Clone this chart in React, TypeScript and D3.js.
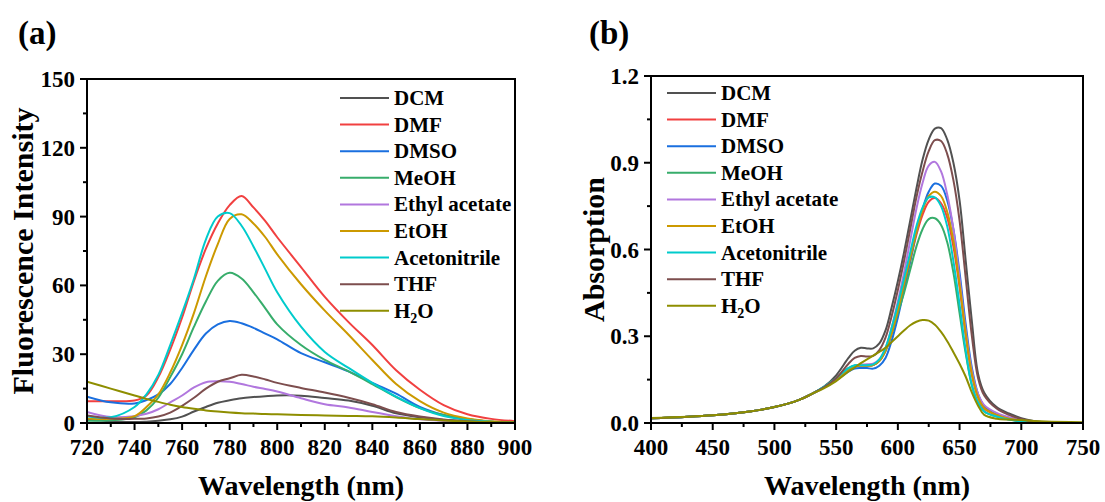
import React from "react";
import * as d3 from "d3";

// ---------- Data ----------
const solvents = ["DCM", "DMF", "DMSO", "MeOH", "Ethyl acetate", "EtOH", "Acetonitrile", "THF", "H2O"];
const colors = ["#515151", "#F14040", "#1A6FDF", "#37AD6B", "#B177DE", "#CC9900", "#00CBCC", "#7D4E4E", "#8E8E00"];

// Panel (a): fluorescence
const flWavelength = [720, 730, 740, 745, 750, 755, 760, 765, 770, 775, 780, 785, 790, 795, 800, 810, 820, 830, 840, 850, 860, 870, 880, 890, 900];
const flDCM = [1.4, 0.8, 0.4, 0.6, 1, 1.6, 2.8, 5, 7, 8.8, 9.9, 10.8, 11.3, 11.7, 12, 11.9, 10.9, 9.8, 7.5, 4.2, 2.5, 1.3, 0.7, 0.3, 0.2];
const flDMF = [9.5, 9.5, 9.8, 12, 20, 32, 46, 62, 76, 87, 95, 99, 94, 88, 81, 68, 55, 44, 34, 23, 14.5, 7.8, 3.8, 1.8, 0.8];
const flDMSO = [11.5, 9, 8.5, 10, 12.5, 17, 24, 32, 39, 43, 44.5, 43.5, 41.5, 39, 36.5, 30.5, 26.5, 22.5, 17.5, 12.8, 7, 3.5, 1.6, 0.6, 0.3];
const flMeOH = [1, 1.2, 2.5, 5.5, 11, 20, 30, 42, 53, 62, 65.5, 63, 57, 50, 43, 34, 27.5, 22.5, 17, 11.3, 6.5, 3.5, 1.6, 0.6, 0.3];
const flEA = [4.8, 2.6, 3, 4, 6, 9, 12, 15.5, 17.8, 18.2, 18, 17, 15.8, 14.8, 13.7, 10.8, 8.2, 6.8, 4.8, 3, 1.6, 0.9, 0.5, 0.3, 0.2];
const flEtOH = [2, 1.8, 3, 7, 12.5, 22, 34, 48, 64, 78, 89, 91, 87, 81, 73.5, 60.5, 49, 38.5, 27.5, 17, 9.5, 4.5, 2, 0.8, 0.4];
const flACN = [3, 2.5, 7, 12.5, 21, 34, 48, 63, 80, 90, 91.5, 86, 77, 67, 57, 42, 31, 24, 17.5, 11.5, 6.5, 3, 1.3, 0.6, 0.3];
const flTHF = [3.3, 2, 1.8, 2, 2.8, 4.5, 7.5, 11, 15, 18, 19.5, 21, 20.3, 19, 17.5, 15.3, 13.3, 11, 8.2, 4.8, 2.8, 1.5, 0.8, 0.4, 0.2];
const flH2O = [18, 15, 12, 10.5, 9.2, 8, 7, 6.2, 5.5, 5, 4.6, 4.3, 4.1, 3.9, 3.8, 3.5, 3.3, 3.1, 2.9, 2.4, 1.7, 1.1, 0.7, 0.4, 0.3];
const flSeries = [flDCM, flDMF, flDMSO, flMeOH, flEA, flEtOH, flACN, flTHF, flH2O];

// Panel (b): absorption
const abWavelength = [400, 450, 480, 500, 520, 530, 540, 550, 560, 565, 570, 575, 580, 585, 590, 595, 600, 605, 610, 615, 620, 625, 630, 635, 640, 645, 650, 655, 660, 665, 670, 680, 690, 700, 710, 720, 750];
const abDCM = [0.016, 0.027, 0.04, 0.055, 0.08, 0.1, 0.125, 0.165, 0.225, 0.25, 0.26, 0.258, 0.258, 0.275, 0.32, 0.4, 0.49, 0.59, 0.7, 0.81, 0.91, 0.98, 1.018, 1.02, 0.98, 0.9, 0.77, 0.56, 0.35, 0.17, 0.105, 0.055, 0.033, 0.017, 0.007, 0.002, 0];
const abDMF = [0.016, 0.027, 0.04, 0.055, 0.08, 0.1, 0.123, 0.15, 0.185, 0.195, 0.198, 0.198, 0.2, 0.215, 0.25, 0.31, 0.385, 0.47, 0.56, 0.65, 0.72, 0.765, 0.778, 0.76, 0.71, 0.61, 0.47, 0.3, 0.165, 0.088, 0.05, 0.027, 0.014, 0.006, 0.002, 0, 0];
const abDMSO = [0.016, 0.027, 0.04, 0.055, 0.08, 0.1, 0.122, 0.148, 0.178, 0.188, 0.19, 0.19, 0.188, 0.198, 0.225, 0.285, 0.365, 0.46, 0.56, 0.66, 0.74, 0.8, 0.828, 0.82, 0.77, 0.67, 0.52, 0.34, 0.19, 0.1, 0.058, 0.03, 0.016, 0.007, 0.002, 0, 0];
const abMeOH = [0.016, 0.027, 0.04, 0.055, 0.08, 0.1, 0.124, 0.155, 0.19, 0.198, 0.2, 0.2, 0.2, 0.215, 0.25, 0.31, 0.38, 0.45, 0.53, 0.61, 0.67, 0.705, 0.708, 0.685, 0.625, 0.52, 0.38, 0.24, 0.13, 0.07, 0.04, 0.022, 0.012, 0.005, 0.001, 0, 0];
const abEA = [0.016, 0.027, 0.04, 0.055, 0.08, 0.1, 0.123, 0.15, 0.185, 0.198, 0.202, 0.203, 0.205, 0.22, 0.26, 0.33, 0.42, 0.52, 0.63, 0.74, 0.83, 0.89, 0.903, 0.87, 0.79, 0.67, 0.5, 0.32, 0.18, 0.1, 0.062, 0.035, 0.02, 0.01, 0.003, 0, 0];
const abEtOH = [0.016, 0.027, 0.04, 0.055, 0.08, 0.1, 0.123, 0.15, 0.185, 0.195, 0.198, 0.198, 0.2, 0.215, 0.25, 0.31, 0.39, 0.48, 0.57, 0.66, 0.735, 0.785, 0.8, 0.785, 0.73, 0.63, 0.48, 0.31, 0.17, 0.09, 0.052, 0.028, 0.015, 0.007, 0.002, 0, 0];
const abACN = [0.016, 0.027, 0.04, 0.055, 0.08, 0.1, 0.125, 0.155, 0.19, 0.2, 0.2, 0.2, 0.203, 0.22, 0.26, 0.33, 0.41, 0.5, 0.59, 0.68, 0.745, 0.78, 0.78, 0.75, 0.68, 0.56, 0.41, 0.25, 0.13, 0.07, 0.04, 0.022, 0.012, 0.005, 0.001, 0, 0];
const abTHF = [0.016, 0.027, 0.04, 0.055, 0.08, 0.1, 0.123, 0.155, 0.205, 0.225, 0.232, 0.23, 0.232, 0.252, 0.295, 0.37, 0.46, 0.56, 0.67, 0.78, 0.87, 0.94, 0.978, 0.975, 0.93, 0.84, 0.7, 0.5, 0.3, 0.155, 0.095, 0.05, 0.028, 0.014, 0.005, 0.001, 0];
const abH2O = [0.017, 0.027, 0.04, 0.055, 0.08, 0.1, 0.12, 0.145, 0.178, 0.192, 0.207, 0.22, 0.233, 0.246, 0.26, 0.28, 0.3, 0.32, 0.338, 0.35, 0.356, 0.354, 0.34, 0.315, 0.283, 0.245, 0.205, 0.16, 0.105, 0.06, 0.028, 0.015, 0.012, 0.01, 0.007, 0.005, 0.003];
const abSeries = [abDCM, abDMF, abDMSO, abMeOH, abEA, abEtOH, abACN, abTHF, abH2O];

// Ticks
const aXTicks = [720, 740, 760, 780, 800, 820, 840, 860, 880, 900];
const aYTicks = [0, 30, 60, 90, 120, 150];
const bXTicks = [400, 450, 500, 550, 600, 650, 700, 750];
const bYTicks = [0, 0.3, 0.6, 0.9, 1.2];

const FONT = "'Liberation Serif', 'Times New Roman', serif";

type PanelProps = {
  left: number; right: number; top: number; bottom: number;
  xDomain: [number, number]; yDomain: [number, number];
  xTicks: number[]; yTicks: number[]; yFmt: (v: number) => string;
  xs: number[]; series: number[][];
  yLabel: string; yLabelX: number; title: string; titleX: number;
  legendX: number; legendY: number; clipId: string;
};

function LegendLabel({ name }: { name: string }) {
  if (name === "H2O") {
    return (
      <>
        H<tspan fontSize={14} dy={5}>2</tspan><tspan dy={-5}>O</tspan>
      </>
    );
  }
  return <>{name}</>;
}

function Panel(p: PanelProps) {
  const x = d3.scaleLinear().domain(p.xDomain).range([p.left, p.right]);
  const y = d3.scaleLinear().domain(p.yDomain).range([p.bottom, p.top]);
  const line = d3.line<[number, number]>().x(d => x(d[0])).y(d => y(d[1])).curve(d3.curveCatmullRom.alpha(0.5));
  const xMinor = p.xTicks.slice(0, -1).map((t, i) => (t + p.xTicks[i + 1]) / 2);
  const yMinor = p.yTicks.slice(0, -1).map((t, i) => (t + p.yTicks[i + 1]) / 2);
  const cx = (p.left + p.right) / 2;
  const cy = (p.top + p.bottom) / 2;
  return (
    <g>
      <defs>
        <clipPath id={p.clipId}>
          <rect x={p.left} y={p.top} width={p.right - p.left} height={p.bottom - p.top} />
        </clipPath>
      </defs>
      <g clipPath={`url(#${p.clipId})`}>
        {p.series.map((s, i) => (
          <path key={i} d={line(p.xs.map((w, j) => [w, s[j]] as [number, number])) || ""} fill="none" stroke={colors[i]} strokeWidth={2} />
        ))}
      </g>
      <rect x={p.left} y={p.top} width={p.right - p.left} height={p.bottom - p.top} fill="none" stroke="#000" strokeWidth={2} />
      {p.xTicks.map(t => (
        <g key={"xt" + t}>
          <line x1={x(t)} x2={x(t)} y1={p.bottom} y2={p.bottom + 7} stroke="#000" strokeWidth={2} />
          <text x={x(t)} y={p.bottom + 32} textAnchor="middle" fontFamily={FONT} fontWeight="bold" fontSize={23}>{t}</text>
        </g>
      ))}
      {xMinor.map(t => (
        <line key={"xm" + t} x1={x(t)} x2={x(t)} y1={p.bottom} y2={p.bottom + 4} stroke="#000" strokeWidth={2} />
      ))}
      {p.yTicks.map(t => (
        <g key={"yt" + t}>
          <line x1={p.left - 7} x2={p.left} y1={y(t)} y2={y(t)} stroke="#000" strokeWidth={2} />
          <text x={p.left - 12} y={y(t) + 8} textAnchor="end" fontFamily={FONT} fontWeight="bold" fontSize={23}>{p.yFmt(t)}</text>
        </g>
      ))}
      {yMinor.map(t => (
        <line key={"ym" + t} x1={p.left - 4} x2={p.left} y1={y(t)} y2={y(t)} stroke="#000" strokeWidth={2} />
      ))}
      <text x={cx} y={495} textAnchor="middle" fontFamily={FONT} fontWeight="bold" fontSize={28}>Wavelength (nm)</text>
      <text transform={`translate(${p.yLabelX},${cy}) rotate(-90)`} textAnchor="middle" fontFamily={FONT} fontWeight="bold" fontSize={30}>{p.yLabel}</text>
      <text x={p.titleX} y={44} fontFamily={FONT} fontWeight="bold" fontSize={33}>{p.title}</text>
      {solvents.map((s, i) => {
        const ly = p.legendY + i * 26.6;
        return (
          <g key={"lg" + s}>
            <line x1={p.legendX} x2={p.legendX + 49} y1={ly} y2={ly} stroke={colors[i]} strokeWidth={2} />
            <text x={p.legendX + 54} y={ly + 7} fontFamily={FONT} fontWeight="bold" fontSize={21}>
              <LegendLabel name={s} />
            </text>
          </g>
        );
      })}
    </g>
  );
}

export default function App() {
  return (
    <div style={{ position: "absolute", left: 0, top: 0 }}>
      <svg width={1105} height={502} style={{ display: "block", background: "#fff" }}>
        <Panel left={87} right={515} top={79} bottom={423} xDomain={[720, 900]} yDomain={[0, 150]}
          xTicks={aXTicks} yTicks={aYTicks} yFmt={v => String(v)} xs={flWavelength} series={flSeries}
          yLabel="Fluorescence Intensity" yLabelX={33} title="(a)" titleX={18}
          legendX={340} legendY={98} clipId="clipA" />
        <Panel left={651} right={1083} top={76} bottom={423} xDomain={[400, 750]} yDomain={[0, 1.2]}
          xTicks={bXTicks} yTicks={bYTicks} yFmt={v => v.toFixed(1)} xs={abWavelength} series={abSeries}
          yLabel="Absorption" yLabelX={604} title="(b)" titleX={589}
          legendX={667} legendY={93} clipId="clipB" />
      </svg>
    </div>
  );
}
